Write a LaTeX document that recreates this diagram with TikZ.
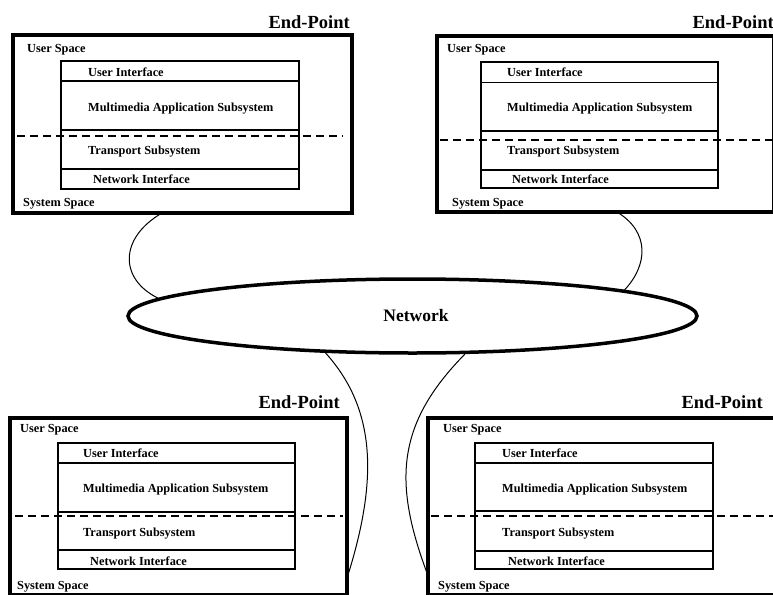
\documentclass[tikz,border=0pt]{standalone}
\usepackage{fontspec}
\setmainfont{Liberation Serif}
\usetikzlibrary{shapes.geometric,calc}

\tikzset{
  outerbox/.style={draw, line width=3.2pt, inner sep=0pt, outer sep=0pt, anchor=north west},
  stackbox/.style={draw, line width=1.3pt, inner sep=0pt, outer sep=0pt, anchor=north west},
  stackline/.style={line width=1.3pt},
  sepline/.style={line width=1.3pt, dash pattern=on 8pt off 5pt},
  link/.style={line width=1pt},
  lbl/.style={font=\fontsize{12.3}{14}\selectfont\bfseries, inner sep=0pt, anchor=base west},
  title/.style={font=\fontsize{18.5}{22}\selectfont\bfseries, inner sep=0pt, anchor=base east},
  netbody/.style={ellipse, draw, line width=3.5pt, inner sep=0pt},
  nettext/.style={font=\fontsize{17.5}{21}\selectfont\bfseries, inner sep=0pt},
}

\begin{document}
\begin{tikzpicture}[x=1pt, y=-1pt]
\useasboundingbox (0,0) rectangle (773,594);
\clip (0,0) rectangle (773,594);

% ---------- top left end-point ----------
\node[outerbox, minimum width=339pt, minimum height=178pt] (tl) at (13,35) {};
\node[stackbox, minimum width=238pt, minimum height=128pt] (tls) at (61,61) {};
\draw[stackline] (tls.west |- 0,81) -- (tls.east |- 0,81);
\draw[stackline] (tls.west |- 0,130) -- (tls.east |- 0,130);
\draw[stackline] (tls.west |- 0,169) -- (tls.east |- 0,169);
\draw[sepline] (17,136) -- (343,136);
\node[title] (tlt) at (350,28.5) {End-Point};
\node[lbl] (tlus) at (27,52.5) {User Space};
\node[lbl] (tlui) at (88,76) {User Interface};
\node[lbl] (tlma) at (88,111.7) {Multimedia Application Subsystem};
\node[lbl] (tltr) at (88,154.3) {Transport Subsystem};
\node[lbl] (tlni) at (93,183.7) {Network Interface};
\node[lbl] (tlss) at (23,206) {System Space};

% ---------- top right end-point ----------
\node[outerbox, minimum width=337pt, minimum height=176pt] (tr) at (437,36) {};
\node[stackbox, minimum width=237pt, minimum height=126pt] (trs) at (481,62) {};
\draw[stackline] (trs.west |- 0,82.5) -- (trs.east |- 0,82.5);
\draw[stackline] (trs.west |- 0,131) -- (trs.east |- 0,131);
\draw[stackline] (trs.west |- 0,170) -- (trs.east |- 0,170);
\draw[sepline] (440,140) -- (773,140);
\node[title] (trt) at (774,28.5) {End-Point};
\node[lbl] (trus) at (447,52.7) {User Space};
\node[lbl] (trui) at (507,76) {User Interface};
\node[lbl] (trma) at (507,111) {Multimedia Application Subsystem};
\node[lbl] (trtr) at (507,154.3) {Transport Subsystem};
\node[lbl] (trni) at (512,183.3) {Network Interface};
\node[lbl] (trss) at (452,206) {System Space};

% ---------- bottom left end-point ----------
\node[outerbox, minimum width=337pt, minimum height=177pt] (bl) at (10,418) {};
\node[stackbox, minimum width=237pt, minimum height=126pt] (bls) at (58,443) {};
\draw[stackline] (bls.west |- 0,463) -- (bls.east |- 0,463);
\draw[stackline] (bls.west |- 0,512) -- (bls.east |- 0,512);
\draw[stackline] (bls.west |- 0,550) -- (bls.east |- 0,550);
\draw[sepline] (15,516) -- (343,516);
\node[title] (blt) at (340,408.5) {End-Point};
\node[lbl] (blus) at (20,432) {User Space};
\node[lbl] (blui) at (83,457) {User Interface};
\node[lbl] (blma) at (83,492) {Multimedia Application Subsystem};
\node[lbl] (bltr) at (83,536.5) {Transport Subsystem};
\node[lbl] (blni) at (90,565.5) {Network Interface};
\node[lbl] (blss) at (17,589) {System Space};

% ---------- bottom right end-point ----------
\node[outerbox, minimum width=352pt, minimum height=177pt] (br) at (428,418) {};
\node[stackbox, minimum width=238pt, minimum height=126pt] (brs) at (475,443) {};
\draw[stackline] (brs.west |- 0,463) -- (brs.east |- 0,463);
\draw[stackline] (brs.west |- 0,511) -- (brs.east |- 0,511);
\draw[stackline] (brs.west |- 0,551) -- (brs.east |- 0,551);
\draw[sepline] (431,516) -- (773,516);
\node[title] (brt) at (763,408.5) {End-Point};
\node[lbl] (brus) at (443,432) {User Space};
\node[lbl] (brui) at (502,457) {User Interface};
\node[lbl] (brma) at (502,492) {Multimedia Application Subsystem};
\node[lbl] (brtr) at (502,536.5) {Transport Subsystem};
\node[lbl] (brni) at (508,565.5) {Network Interface};
\node[lbl] (brss) at (438,589) {System Space};

% ---------- network ----------
\node[netbody, minimum width=569pt, minimum height=74pt] (net) at (412.5,316) {};
\node[nettext] (netlabel) at (416,316) {Network};

% ---------- links between end-points and network ----------
\draw[link] ($(tl.south west)+(149,0)$) .. controls (119,238) and (119,279) .. (net.176.6);
\draw[link] ($(tr.south west)+(180,0)$) .. controls (650,232) and (648,265) .. (net.7.8);
\draw[link] (net.203.8) .. controls (377,410) and (377,481) .. ($(bl.south east)+(1.6,-22)$);
\draw[link] (net.324.2) .. controls (395,425) and (394,484) .. ($(br.south west)+(-1,-22)$);
\end{tikzpicture}
\end{document}
